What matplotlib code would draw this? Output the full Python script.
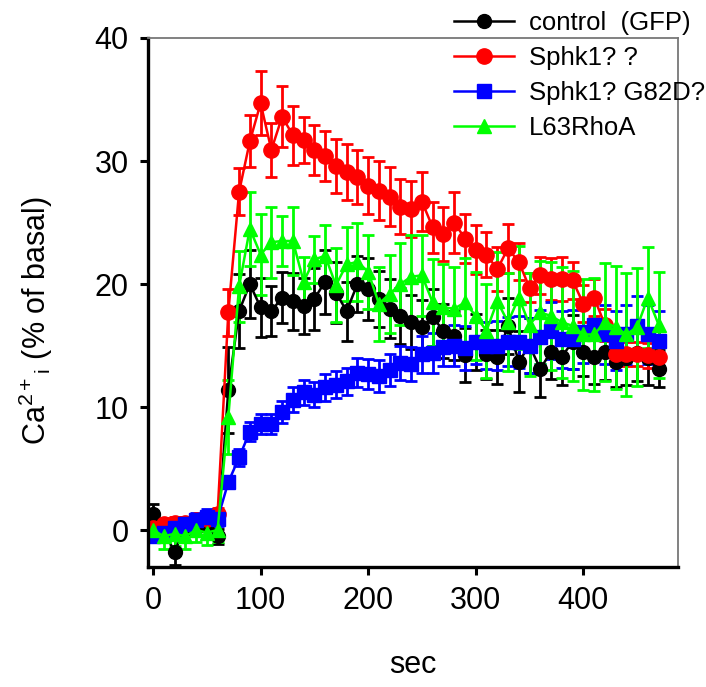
import matplotlib
matplotlib.use("Agg")
import matplotlib.pyplot as plt
from matplotlib.lines import Line2D

plt.rcParams['font.family'] = ['Liberation Sans', 'DejaVu Sans']
plt.rcParams['mathtext.fontset'] = 'custom'
plt.rcParams['mathtext.rm'] = 'Liberation Sans'
plt.rcParams['mathtext.it'] = 'Liberation Sans'

# time points (sec)
t = [0, 10, 20, 30, 40, 50, 60, 70, 80, 90, 100, 110, 120, 130, 140, 150,
     160, 170, 180, 190, 200, 210, 220, 230, 240, 250, 260, 270, 280, 290,
     300, 310, 320, 330, 340, 350, 360, 370, 380, 390, 400, 410, 420, 430,
     440, 450, 460, 470]

control = [1.3, 0.0, -1.8, 0.3, 0.2, 0.5, -0.5, 11.4, 17.8, 20.0, 18.1, 17.8,
           18.9, 18.6, 18.2, 18.8, 20.2, 19.3, 17.8, 20.0, 19.6, 18.8, 18.0,
           17.4, 16.9, 16.5, 17.3, 16.2, 15.8, 14.2, 15.3, 14.3, 14.1, 16.6,
           13.7, 15.0, 13.1, 14.5, 14.1, 15.3, 14.5, 14.1, 14.5, 13.7, 14.0,
           14.4, 14.0, 13.1]
control_err = [0.8, 0.6, 1.0, 0.6, 0.6, 0.6, 0.6, 3.5, 3.0, 2.8, 2.4, 2.0,
               2.1, 2.3, 2.3, 2.5, 2.6, 2.5, 2.4, 2.3, 2.5, 2.3, 2.4, 2.3,
               2.2, 2.2, 2.3, 2.2, 2.0, 2.2, 2.3, 2.0, 2.2, 2.3, 2.5, 2.2,
               2.3, 2.2, 2.3, 2.2, 2.0, 2.2, 2.3, 2.1, 2.2, 2.3, 2.2, 1.5]

sphk1 = [0.2, 0.5, 0.6, 0.6, 0.8, 0.9, 1.3, 17.7, 27.5, 31.6, 34.7, 30.9,
         33.6, 32.1, 31.7, 30.9, 30.4, 29.6, 29.1, 28.7, 28.0, 27.6, 27.1,
         26.3, 26.1, 26.7, 24.6, 24.1, 25.0, 23.7, 22.8, 22.4, 21.2, 22.9,
         21.8, 19.7, 20.7, 20.4, 20.4, 20.3, 18.4, 18.9, 16.7, 14.3, 14.3,
         14.3, 14.2, 14.1]
sphk1_err = [0.5, 0.5, 0.5, 0.5, 0.5, 0.5, 0.5, 1.9, 1.9, 2.1, 2.6, 2.2,
             2.5, 2.4, 1.9, 2.0, 2.0, 2.2, 2.3, 2.2, 2.3, 2.4, 2.4, 2.2,
             2.3, 2.4, 2.1, 2.2, 2.5, 2.0, 2.0, 1.8, 1.8, 2.0, 1.5, 1.2,
             1.5, 1.7, 1.8, 1.5, 1.5, 1.5, 1.3, 1.0, 1.0, 1.0, 1.0, 1.0]

g82d = [-0.5, -0.2, 0.2, 0.5, 0.8, 1.1, 0.9, 3.9, 5.9, 8.0, 8.6, 8.6, 9.6,
        10.6, 11.2, 11.0, 11.6, 11.8, 12.1, 12.8, 12.7, 12.5, 13.0, 13.6,
        13.5, 14.3, 14.4, 14.9, 15.0, 14.8, 15.3, 15.0, 15.0, 15.3, 15.3,
        15.0, 15.7, 16.2, 15.5, 15.5, 16.1, 16.7, 15.9, 15.4, 15.9, 16.6,
        15.9, 15.4]
g82d_err = [0.5, 0.5, 0.5, 0.5, 0.6, 0.6, 0.6, 0.5, 0.7, 0.8, 0.8, 0.8, 0.9,
            1.0, 1.0, 1.0, 1.1, 1.1, 1.1, 1.2, 1.2, 1.3, 1.3, 1.4, 1.4, 1.5,
            1.6, 1.6, 1.7, 1.8, 1.8, 1.9, 2.0, 2.0, 2.1, 2.2, 2.2, 2.3, 2.3,
            2.4, 2.5, 2.5, 2.4, 2.4, 2.4, 2.4, 2.4, 2.4]

rhoa = [0.0, -0.5, -0.3, -0.5, 0.0, -0.2, 0.0, 9.2, 19.8, 24.5, 22.4, 23.4,
        23.5, 23.5, 20.2, 22.0, 22.3, 19.9, 21.6, 21.8, 21.0, 18.4, 19.2,
        20.0, 20.6, 20.7, 18.5, 18.1, 18.0, 18.5, 17.4, 16.2, 18.6, 16.9,
        18.9, 16.7, 17.7, 17.4, 16.9, 16.6, 15.9, 15.9, 16.9, 16.5, 15.9,
        16.5, 18.9, 16.7]
rhoa_err = [1.0, 1.0, 1.0, 1.0, 1.0, 1.0, 1.0, 3.0, 2.9, 3.0, 3.3, 2.9, 2.0,
            2.8, 2.0, 1.9, 2.5, 3.0, 3.0, 3.2, 3.0, 3.0, 3.2, 3.3, 3.4, 3.3,
            3.5, 3.5, 3.4, 3.6, 3.6, 3.8, 4.0, 4.0, 4.2, 4.2, 4.2, 4.4, 4.5,
            4.5, 4.5, 4.6, 4.8, 5.0, 5.0, 4.8, 4.1, 4.3]

labels = ["control  (GFP)", "Sphk1? ?", "Sphk1? G82D?", "L63RhoA"]


fig = plt.figure(figsize=(7.06, 6.87), dpi=100, facecolor="white")
ax = fig.add_axes([0.2096, 0.1747, 0.7507, 0.7700])

series = [
    (control, control_err, "black", "o", 10),
    (sphk1, sphk1_err, "red", "o", 11),
    (g82d, g82d_err, "blue", "s", 9.5),
    (rhoa, rhoa_err, "#00ff00", "^", 10.5),
]
handles = []
for (y, e, c, m, ms), lab in zip(series, labels):
    ax.errorbar(t, y, yerr=e, color=c, marker=m, markersize=ms, linewidth=1.8,
                elinewidth=2.0, capsize=4.5, capthick=2.0)
    handles.append(Line2D([], [], color=c, marker=m, markersize=ms,
                          linewidth=1.8, label=lab))

ax.set_xlim(-4.7, 488)
ax.set_ylim(-3, 40)
ax.set_xticks([0, 100, 200, 300, 400])
ax.set_yticks([0, 10, 20, 30, 40])

# spines: left/bottom thick black, top/right thin gray
for s in ['left', 'bottom']:
    ax.spines[s].set_linewidth(2.4)
    ax.spines[s].set_color('black')
for s in ['top', 'right']:
    ax.spines[s].set_linewidth(1.3)
    ax.spines[s].set_color('#777777')

ax.tick_params(axis='both', direction='out', length=6, width=2.2,
               labelsize=22, pad=8, top=False, right=False)

ax.set_xlabel("sec", fontsize=22, labelpad=24)
ax.set_ylabel(r"Ca$^{2+}$$_{\mathrm{i}}$ (% of basal)", fontsize=22)
ax.yaxis.set_label_coords(-0.175, 0.465)

ax.legend(handles=handles, loc='upper left', bbox_to_anchor=(0.640, 0.988),
          bbox_transform=fig.transFigure, frameon=False, fontsize=18.5,
          borderpad=0.1, labelspacing=0.43, handlelength=2.33,
          handletextpad=0.58, borderaxespad=0)

fig.savefig("out.png", dpi=100, facecolor="white")
